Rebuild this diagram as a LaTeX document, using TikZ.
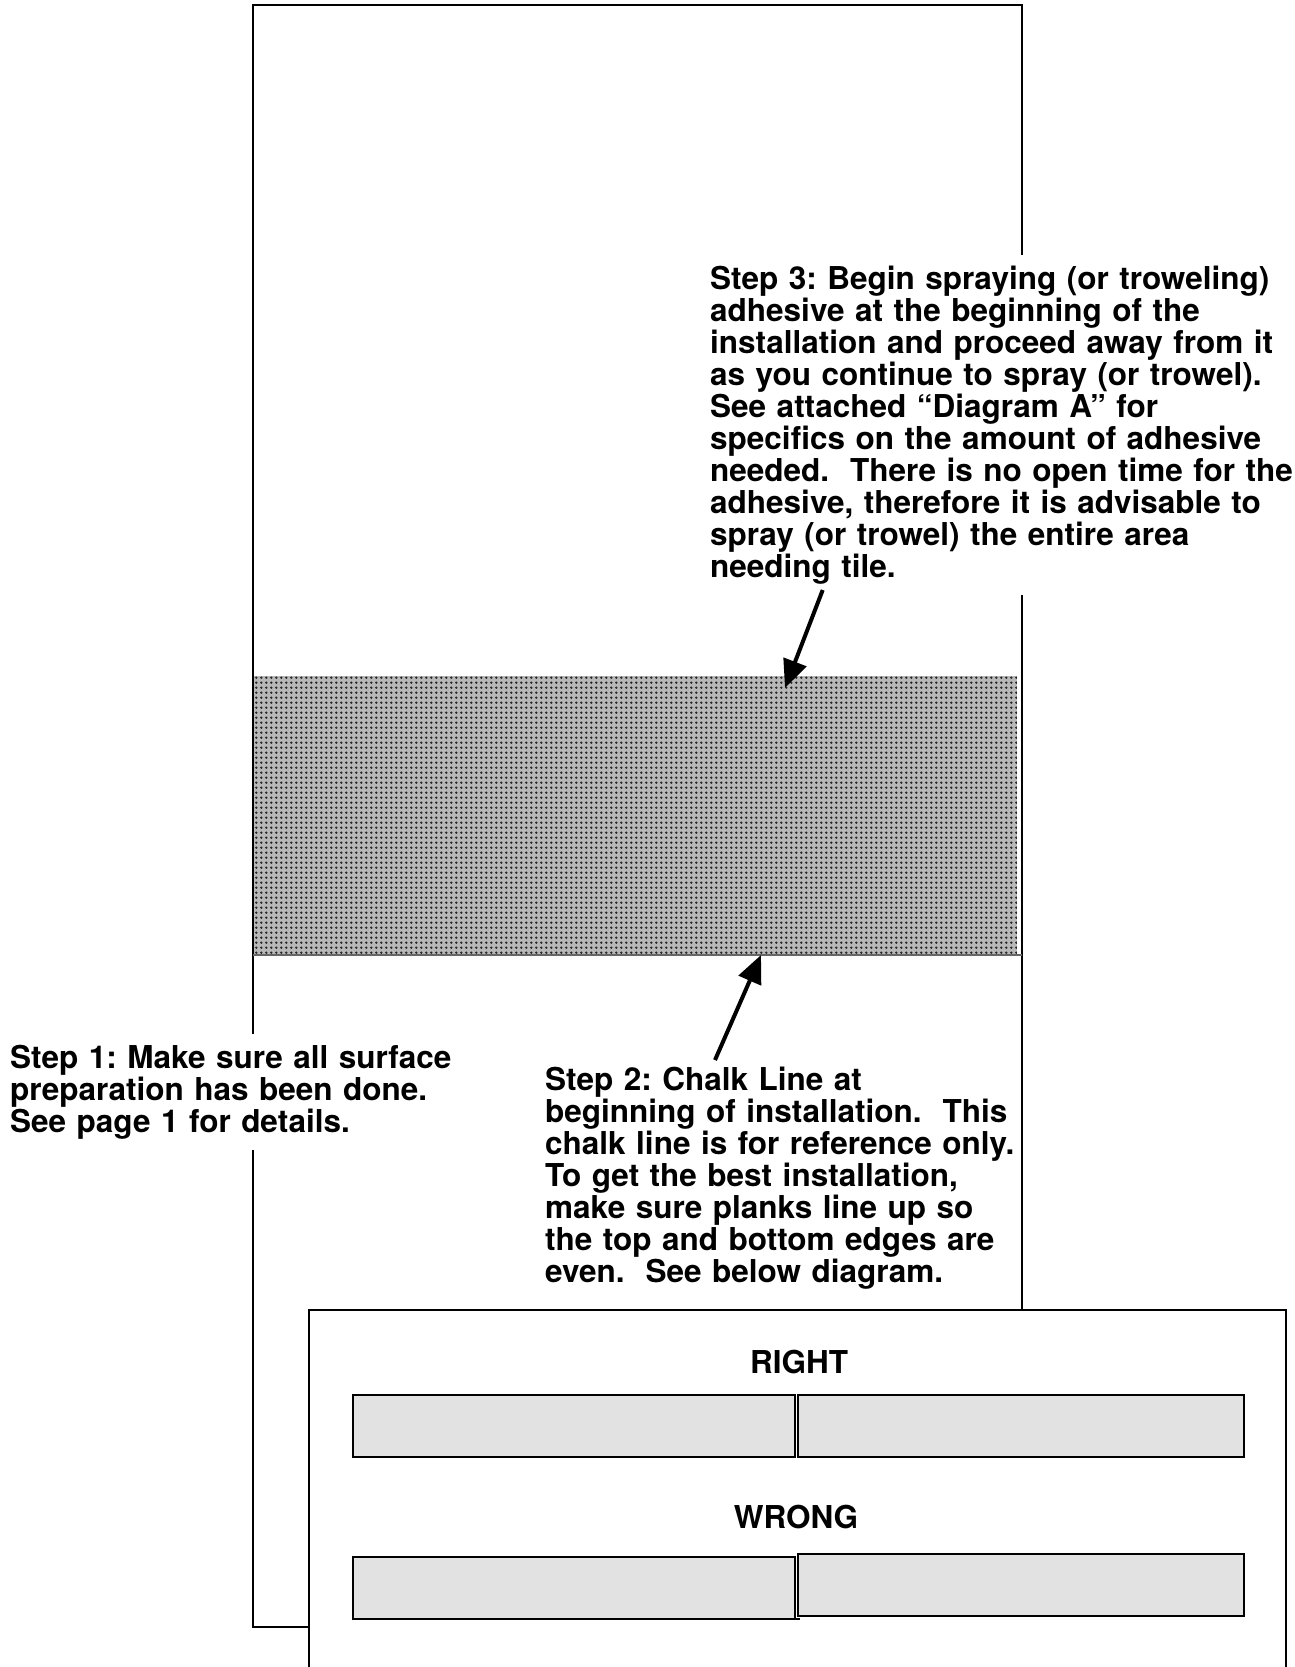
\documentclass[tikz,border=0pt]{standalone}
\usepackage{fontspec}
\setmainfont{TeX Gyre Heros}
\usetikzlibrary{arrows.meta,patterns.meta}

\pgfdeclarepattern{name=adhdots, type=uncolored,
  bottom left={\pgfpoint{0pt}{0pt}}, top right={\pgfpoint{5.2pt}{5.2pt}},
  tile size={\pgfpoint{5.2pt}{5.2pt}},
  code={\pgfpathcircle{\pgfpoint{2.6pt}{2.6pt}}{1.45pt}\pgfusepath{fill}}}

\definecolor{plank}{gray}{0.886}
\definecolor{chalk}{gray}{0.4}

\begin{document}
\begin{tikzpicture}[x=1pt,y=-1pt,
  steptext/.style={font=\fontsize{31.5}{32}\selectfont\bfseries\frenchspacing,
    align=left, anchor=base west, inner sep=11pt},
  whitebg/.style={fill=white},
  frame/.style={draw=black, line width=2.5pt},
  plankbox/.style={draw=black, fill=plank, line width=2.5pt},
  pointer/.style={line width=4pt, -{Triangle[length=28pt,width=24pt]}},
  heading/.style={font=\fontsize{31.5}{32}\selectfont\bfseries, anchor=base, inner sep=0pt}]

\useasboundingbox (0,0) rectangle (1294,1667);

% main floor outline
\draw[frame] (253,5) rectangle (1022,1627);

% adhesive area
\fill[black!28] (254.3,676) rectangle (1017,955);
\fill[pattern=adhdots, pattern color=black!85] (254.3,676) rectangle (1017,955);
% chalk line
\draw[chalk, line width=2pt] (253,955) -- (1022,955);

% texts
\node[steptext, whitebg, text width=600pt] (s3) at (699,289)
  {Step 3: Begin spraying (or troweling)\\
   adhesive at the beginning of the\\
   installation and proceed away from it\\
   as you continue to spray (or trowel).\\
   See attached “Diagram A” for\\
   specifics on the amount of adhesive\\
   needed.\ \ There is no open time for the\\
   adhesive, therefore it is advisable to\\
   spray (or trowel) the entire area\\
   needing tile.};

\node[steptext, whitebg, text width=460pt] (s1) at (-1,1068)
  {Step 1: Make sure all surface\\
   preparation has been done.\\
   See page 1 for details.};

\node[steptext, text width=520pt] (s2) at (534,1090)
  {Step 2: Chalk Line at\\
   beginning of installation.\ \ This\\
   chalk line is for reference only.\\
   To get the best installation,\\
   make sure planks line up so\\
   the top and bottom edges are\\
   even.\ \ See below diagram.};

% arrows
\coordinate (a3tail) at (822.7,590);
\coordinate (a3tip) at (785,688);
\coordinate (a2tail) at (715,1060);
\coordinate (a2tip) at (761,955);
\draw[pointer] (a3tail) -- (a3tip);
\draw[pointer] (a2tail) -- (a2tip);

% inset box
\draw[frame, fill=white] (309,1310) rectangle (1286,1720);

\node[heading] (right) at (799,1373) {RIGHT};
\draw[plankbox] (353,1395) rectangle (795,1457);
\draw[plankbox] (798,1395) rectangle (1244,1457);

\node[heading] (wrong) at (796,1528) {WRONG};
\draw[plankbox] (353,1557) rectangle (795,1619);
\draw[black, line width=2.5pt] (790,1619) -- (800,1619);
\draw[plankbox] (798,1554) rectangle (1244,1616);

\end{tikzpicture}
\end{document}
